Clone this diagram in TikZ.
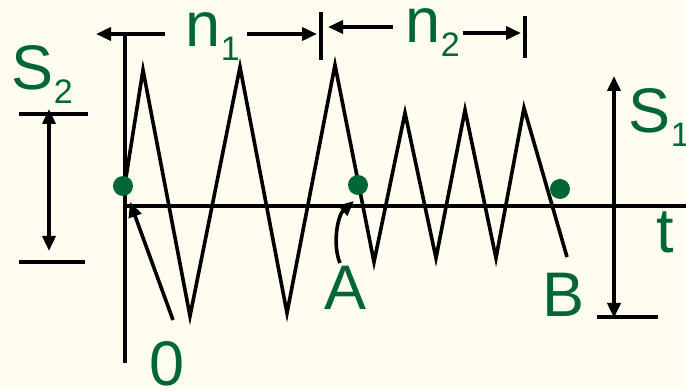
\documentclass[tikz,border=0pt]{standalone}
\usepackage{xcolor}
\usepackage{fontspec}
\setmainfont{Liberation Sans}
\usepackage{tikz}
\usetikzlibrary{arrows.meta}
\definecolor{labelgreen}{RGB}{0,102,51}
\definecolor{paper}{RGB}{255,253,240}
\newcommand{\lowsub}[1]{\raisebox{-14pt}{\fontsize{34}{36}\selectfont #1}}

\begin{document}
\begin{tikzpicture}[x=1pt,y=-1pt,line width=3.6pt,
    lbl/.style={text=labelgreen,font=\fontsize{63}{70}\selectfont,inner sep=0pt,anchor=base west},
    dot/.style={circle,fill=labelgreen,inner sep=0pt,minimum size=20pt},
    tip/.style={-{Triangle[length=15pt,width=13pt]}},
    twotips/.style={{Triangle[length=15pt,width=13pt]}-{Triangle[length=15pt,width=13pt]}}]
    \fill[paper] (0,0) rectangle (686,390);
    \useasboundingbox (0,0) rectangle (686,390);
    % axes
    \coordinate (axtop) at (125,35);
    \coordinate (axbot) at (125,363);
    \coordinate (origin) at (125,206);
    \coordinate (axend) at (686,206);
    \draw (axtop) -- (axbot);
    \draw (origin) -- (axend);
    % load history
    \draw[line join=miter] (124,190) -- (143,70) -- (190,316) -- (240,67) -- (287,313) -- (335,65)
      -- (374,262) -- (405,113) -- (436,258) -- (465,110) -- (496,258) -- (524,108) -- (567,257);
    \node[dot] (dotzero) at (123,186) {};
    \node[dot] (dotA) at (358,185) {};
    \node[dot] (dotB) at (560,189) {};
    % labels
    \node[lbl] (stwo) at (10,90) {S\lowsub{2}};
    \node[lbl] (sone) at (627,133) {S\lowsub{1}};
    \node[lbl] (none) at (184,47) {n\lowsub{1}};
    \node[lbl] (ntwo) at (404,43) {n\lowsub{2}};
    \node[lbl] (tlab) at (655,253) {t};
    \node[lbl] (zero) at (148,385) {0};
    \node[lbl] (labA) at (323,310) {A};
    \node[lbl] (labB) at (541,317) {B};
    % pointers
    \coordinate (zerotail) at (173,320);
    \coordinate (zerohead) at (130,202);
    \draw[tip] (zerotail) -- (zerohead);
    \coordinate (Atail) at (340,263);
    \coordinate (Ahead) at (354,201);
    \draw[tip] (Atail) .. controls (332,244) and (338,215) .. (Ahead);
    % n1 and n2
    \coordinate (none l) at (165,34);
    \coordinate (none ll) at (96,34);
    \coordinate (none r) at (247,34);
    \coordinate (none rr) at (317,34);
    \draw[tip] (none l) -- (none ll);
    \draw[tip] (none r) -- (none rr);
    \draw (321,12) -- (321,60);
    \coordinate (ntwo l) at (393,27);
    \coordinate (ntwo ll) at (328,27);
    \coordinate (ntwo r) at (463,33);
    \coordinate (ntwo rr) at (521,33);
    \draw[tip] (ntwo l) -- (ntwo ll);
    \draw[tip] (ntwo r) -- (ntwo rr);
    \draw (525,16) -- (525,58);
    % S2
    \coordinate (stwo top) at (49,109);
    \coordinate (stwo bot) at (49,251);
    \draw (19,114) -- (88,114);
    \draw (19,262) -- (85,262);
    \draw[twotips] (stwo top) -- (stwo bot);
    % S1
    \coordinate (sone top) at (614,76);
    \coordinate (sone bot) at (614,318);
    \draw (597,317) -- (658,317);
    \draw[twotips] (sone top) -- (sone bot);
  \end{tikzpicture}
\end{document}
